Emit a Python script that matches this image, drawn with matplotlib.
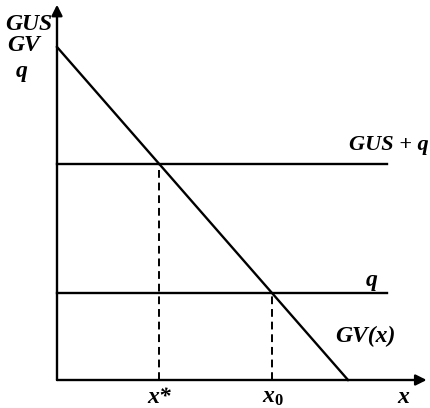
import numpy as np
import matplotlib
matplotlib.use('Agg')
import matplotlib.pyplot as plt

# 曲線の値
gv_intercept = 10.0   # GV(0)
gv_zero = 8.74        # GV(x) = 0 となる x
levels = [6.5, 2.6]   # GUS + q, q
level_labels = ['GUS + q', 'q']
crit_labels = ['x*', r'$x_0$']
y_labels = ['GUS', 'GV', 'q']
line_end = 9.9

plt.rcParams['font.family'] = ['Liberation Serif', 'DejaVu Serif']
plt.rcParams['mathtext.fontset'] = 'custom'
plt.rcParams['mathtext.it'] = 'Liberation Serif:bold:italic'
plt.rcParams['mathtext.rm'] = 'Liberation Serif:bold'

fig = plt.figure(figsize=(4.31, 4.08), dpi=100)
ax = fig.add_axes([0, 0, 1, 1])
s = 33.3
ax.set_xlim(-57 / s, (431 - 57) / s)
ax.set_ylim(-(408 - 380) / s, 380 / s)
ax.axis('off')

tk = dict(fontsize=17, fontweight='bold', fontstyle='italic')
lw = 1.7

# 軸
arr = dict(arrowstyle='-|>', lw=lw, color='black', mutation_scale=16,
           shrinkA=0, shrinkB=0)
ax.annotate('', xy=(0, 11.27), xytext=(0, 0), arrowprops=arr)
ax.annotate('', xy=(11.1, 0), xytext=(0, 0), arrowprops=arr)

# GV(x)
xs = np.array([0, gv_zero])
ax.plot(xs, gv_intercept * (1 - xs / gv_zero), color='black', lw=lw)

# 水平線と交点
for lev, lab, cl in zip(levels, level_labels, crit_labels):
    ax.plot([0, line_end], [lev, lev], color='black', lw=lw)
    xc = gv_zero * (1 - lev / gv_intercept)
    ax.plot([xc, xc], [0, lev], color='black', lw=1.4, linestyle=(0, (4, 2.5)))
    ax.text(xc, -0.52, cl, ha='center', va='center', **tk)

# 右端で切れないよう少し小さく
ax.text(8.78, 7.05, level_labels[0], ha='left', va='center',
        fontsize=16, fontweight='bold', fontstyle='italic')
ax.text(9.45, 3.0, level_labels[1], ha='center', va='center', **tk)
ax.text(8.35, 1.3, 'GV(x)', ha='left', va='center', **tk)
ax.text(10.4, -0.52, 'x', ha='center', va='center', **tk)

# 縦軸ラベル
for lab, yp, xp in zip(y_labels, [25, 45, 72], [29, 24, 22]):
    ax.text((xp - 57) / s, (380 - yp) / s, lab, ha='center', va='center', **tk)

fig.savefig('out.png', dpi=100)
